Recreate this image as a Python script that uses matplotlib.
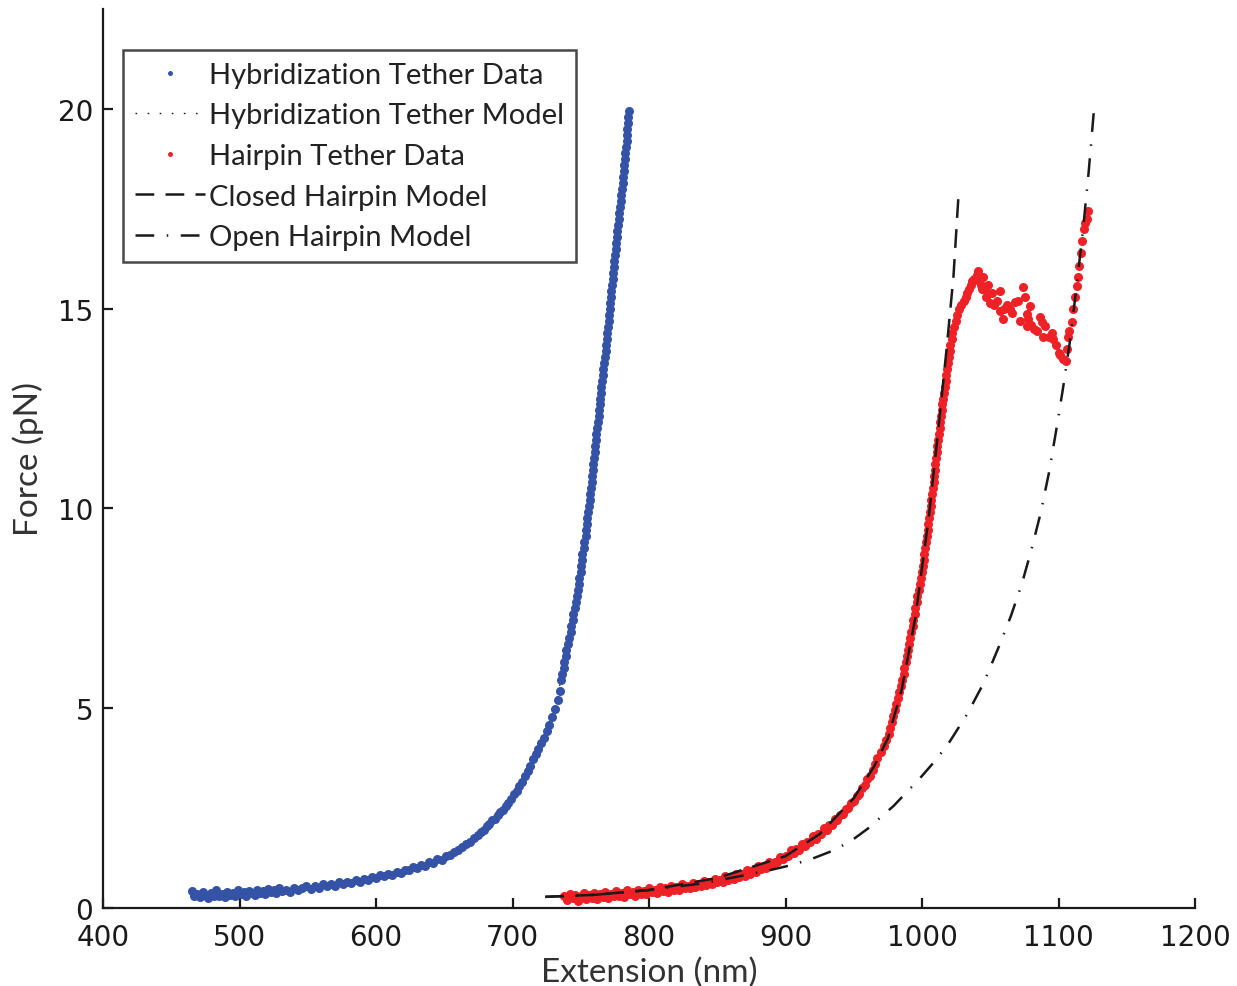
import matplotlib
matplotlib.use("Agg")
import matplotlib.pyplot as plt

plt.rcParams["font.family"] = ["Lato", "DejaVu Sans"]

BLUE = "#3553a6"
RED = "#ee2127"
INK = "#1a1a1a"

# ---- Hybridization tether data (extension nm, force pN) ----
hyb_x = [
    465, 467, 469, 471, 473, 475, 477, 479, 481, 483, 485, 487, 489, 491, 493, 495, 497, 499,
    501, 503, 505, 507, 509, 511, 513, 515, 517, 519, 521, 523, 525, 527, 529, 531, 534, 537,
    540, 543, 546, 549, 552, 555, 558, 561, 564, 567, 570, 573, 576, 579, 582, 585, 588, 591,
    594, 597, 600, 603, 606, 609, 612, 615, 618, 621, 624, 627, 630, 633, 636, 639, 642, 645,
    648, 651, 654, 657, 660, 663, 666, 669, 672, 675,
    677, 679, 681, 683, 685, 687, 689, 691, 693, 695, 697, 699, 701, 703, 705, 707, 709, 711,
    713, 715, 717, 719, 721, 723, 725, 727, 729, 731, 733, 734.5,
    735.8, 736.4, 737.6, 738.0, 739.1, 739.5, 740.8, 741.3, 742.6, 743.0, 744.2, 744.6, 745.9,
    746.4, 747.5, 747.9, 748.8, 749.0, 749.9, 750.1, 751.0, 751.2, 752.1, 752.6, 753.5, 753.7,
    754.5, 754.9, 755.6, 755.8, 756.5, 756.9, 757.4, 757.9, 758.3, 758.9, 759.3, 759.6, 760.2,
    760.5, 761.1, 761.4, 762.2, 762.6, 763.0, 763.5, 763.9, 764.3, 764.9, 765.1, 765.8, 766.2,
    766.6, 767.2, 767.4, 768.1, 768.3, 769.0, 769.4, 769.8, 770.4, 770.7, 771.3, 771.5, 772.2,
    772.4, 773.0, 773.3, 773.7, 774.3, 774.5, 775.1, 775.6, 775.9, 776.6, 776.8, 777.5, 777.9,
    778.3, 778.9, 779.1, 779.8, 780.1, 780.6, 781.0, 781.4, 781.9, 782.2, 782.7, 783.0, 783.5,
    783.8, 784.1, 784.5, 784.7, 785.1,
]
hyb_f = [
    0.42, 0.31, 0.36, 0.28, 0.40, 0.33, 0.25, 0.38, 0.30, 0.44, 0.29, 0.36, 0.27, 0.41, 0.33,
    0.38, 0.30, 0.45, 0.34, 0.40, 0.31, 0.43, 0.37, 0.33, 0.46, 0.38, 0.42, 0.35, 0.47, 0.40,
    0.44, 0.38, 0.49, 0.42, 0.46, 0.40, 0.51, 0.45, 0.49, 0.55, 0.48, 0.56, 0.51, 0.59, 0.54,
    0.60, 0.56, 0.64, 0.59, 0.66, 0.62, 0.70, 0.66, 0.73, 0.69, 0.78, 0.74, 0.82, 0.79, 0.86,
    0.83, 0.91, 0.88, 0.96, 0.94, 1.02, 1.00, 1.08, 1.06, 1.15, 1.13, 1.22, 1.20, 1.30, 1.33,
    1.40, 1.45, 1.52, 1.60, 1.66, 1.76, 1.83,
    1.90, 1.96, 2.05, 2.10, 2.20, 2.24, 2.32, 2.40, 2.46, 2.55, 2.62, 2.74, 2.86, 2.92, 3.05,
    3.16, 3.30, 3.42, 3.55, 3.72, 3.85, 3.98, 4.12, 4.25, 4.42, 4.58, 4.78, 4.98, 5.20, 5.42,
    5.70, 5.85, 6.00, 6.15, 6.30, 6.45, 6.60, 6.75, 6.90, 7.05, 7.20, 7.35, 7.50, 7.65, 7.80,
    7.95, 8.10, 8.25, 8.40, 8.55, 8.70, 8.85, 9.00, 9.15, 9.30, 9.45, 9.60, 9.75, 9.90, 10.05,
    10.20, 10.35, 10.50, 10.65, 10.80, 10.95, 11.10, 11.25, 11.40, 11.55, 11.70, 11.85, 12.00,
    12.15, 12.30, 12.45, 12.60, 12.75, 12.90, 13.05, 13.20, 13.35, 13.50, 13.65, 13.80, 13.95,
    14.10, 14.25, 14.40, 14.55, 14.70, 14.85, 15.00, 15.15, 15.30, 15.45, 15.60, 15.75, 15.90,
    16.05, 16.20, 16.35, 16.50, 16.65, 16.80, 16.95, 17.10, 17.25, 17.40, 17.55, 17.70, 17.85,
    18.00, 18.15, 18.30, 18.45, 18.60, 18.75, 18.90, 19.05, 19.20, 19.35, 19.50, 19.65, 19.80,
    19.95,
]

# ---- Hybridization tether model (hidden under the blue data) ----
hyb_model_x = [464, 500, 540, 580, 620, 660, 677, 689, 701, 711, 721, 731, 736, 740,
               747, 753, 759, 765, 770, 775, 780, 785]
hyb_model_f = [0.33, 0.37, 0.47, 0.63, 0.90, 1.45, 1.90, 2.30, 2.85, 3.45, 4.15, 5.00, 5.80,
               6.50, 7.75, 9.35, 11.1, 12.9, 14.5, 16.2, 18.0, 20.0]

# ---- Hairpin tether data ----
hp_x = [
    738, 740, 742, 744, 746, 748, 750, 752, 754, 756, 758, 760, 762, 764, 766, 768, 770, 772,
    774, 776, 778, 780, 782, 784, 786, 788, 790, 792, 794, 796, 798, 800, 802, 804, 806, 808,
    810, 812, 814, 816, 818, 820, 822, 824, 826, 828, 830, 832, 834, 836, 838, 840, 842, 844,
    846, 848, 850, 852, 854, 856, 858, 860, 862, 864, 866, 868, 870, 872, 874, 876, 878, 880,
    882, 884, 886, 888, 890, 892, 894, 896, 898, 900, 902, 904, 906, 908, 910, 912, 914, 916,
    918, 920, 922, 924, 926, 928, 930, 932, 934, 936, 938, 940, 942, 944, 946, 948, 950, 952,
    954, 956, 958, 960, 962, 964,
    965.5, 967.2, 969.8, 971.9, 973.6, 975.5, 976.2, 977.8, 978.6, 980.3, 980.9, 982.4, 983.0,
    984.6, 985.0, 986.5, 987.1, 988.6, 989.0, 990.0, 990.3, 991.5, 991.9, 993.1, 993.5, 994.6,
    995.0, 996.1, 996.6, 997.7, 998.3, 999.4, 999.9, 1000.6, 1001.2, 1001.6, 1002.5, 1002.8,
    1003.6, 1004.0, 1004.6, 1005.2, 1005.5, 1006.3, 1006.6, 1007.4, 1007.7, 1008.4, 1008.8,
    1009.3, 1009.8, 1010.2, 1010.9, 1011.2, 1011.9, 1012.3, 1012.9, 1013.5, 1013.8, 1014.6,
    1014.9, 1015.7, 1016.1, 1016.6, 1017.2, 1017.7, 1018.5, 1018.9, 1019.6, 1020.2, 1020.8,
    1021.6, 1022.3, 1023.5, 1024.6, 1025.6, 1027.3, 1028.8, 1030.4, 1031.9, 1033.0, 1034.2,
    1035.5, 1036.8,
    1038, 1040, 1041, 1042, 1043, 1044, 1045, 1046, 1047, 1048, 1050, 1051, 1053, 1055, 1057,
    1057, 1059, 1060, 1062, 1064.5, 1066, 1068, 1070, 1072, 1074, 1075.5, 1077, 1077.7, 1077,
    1079, 1080, 1082, 1084, 1086.5, 1088, 1088.6, 1090, 1093, 1095, 1096, 1098, 1100,
    1101, 1103, 1105.5, 1106, 1107, 1108, 1110, 1110.6, 1112, 1113.5, 1114, 1115, 1116.5,
    1117, 1118.7, 1119.5, 1121, 1121.6,
]
hp_f = [
    0.30, 0.20, 0.35, 0.25, 0.32, 0.18, 0.29, 0.37, 0.23, 0.33, 0.26, 0.38, 0.22, 0.34, 0.28,
    0.40, 0.26, 0.36, 0.30, 0.42, 0.31, 0.38, 0.28, 0.44, 0.34, 0.40, 0.31, 0.46, 0.36, 0.43,
    0.34, 0.49, 0.39, 0.46, 0.37, 0.52, 0.42, 0.49, 0.40, 0.55, 0.45, 0.53, 0.45, 0.59, 0.49,
    0.56, 0.50, 0.63, 0.53, 0.61, 0.54, 0.68, 0.58, 0.65, 0.60, 0.73, 0.64, 0.71, 0.66, 0.79,
    0.70, 0.77, 0.72, 0.86, 0.77, 0.85, 0.81, 0.94, 0.86, 0.94, 0.90, 1.04, 0.97, 1.05, 1.01,
    1.15, 1.08, 1.16, 1.14, 1.28, 1.22, 1.31, 1.29, 1.44, 1.37, 1.47, 1.46, 1.60, 1.54, 1.64,
    1.64, 1.79, 1.73, 1.85, 1.86, 2.00, 1.96, 2.07, 2.09, 2.23, 2.21, 2.33, 2.36, 2.49, 2.51,
    2.63, 2.67, 2.81, 2.86, 3.01, 3.07, 3.22, 3.31, 3.46,
    3.60, 3.75, 3.90, 4.05, 4.20, 4.35, 4.50, 4.65, 4.80, 4.95, 5.10, 5.25, 5.40, 5.55, 5.70,
    5.85, 6.00, 6.15, 6.30, 6.45, 6.60, 6.75, 6.90, 7.05, 7.20, 7.35, 7.50, 7.65, 7.80, 7.95,
    8.10, 8.25, 8.40, 8.55, 8.70, 8.85, 9.00, 9.15, 9.30, 9.45, 9.60, 9.75, 9.90, 10.05, 10.20,
    10.35, 10.50, 10.65, 10.80, 10.95, 11.10, 11.25, 11.40, 11.55, 11.70, 11.85, 12.00, 12.15,
    12.30, 12.45, 12.60, 12.75, 12.90, 13.05, 13.20, 13.35, 13.50, 13.65, 13.80, 13.95, 14.10,
    14.25, 14.40, 14.55, 14.70, 14.85, 15.00, 15.10, 15.20, 15.30, 15.40, 15.50, 15.60, 15.70,
    15.75, 15.85, 15.95, 15.70, 15.60, 15.50, 15.80, 15.50, 15.30, 15.60, 15.15, 15.40, 15.10,
    15.20, 15.45, 14.95, 14.75, 15.00, 15.10, 15.00, 14.90, 15.17, 15.20, 14.70, 15.55, 15.30,
    14.87, 14.75, 14.57, 15.07, 14.60, 14.50, 14.45, 14.80, 14.66, 14.30, 14.57, 14.30, 14.40,
    14.24, 14.10, 13.90,
    13.85, 13.75, 13.70, 14.00, 14.30, 14.45, 14.67, 15.00, 15.30, 15.57, 15.80, 16.07, 16.40,
    16.70, 17.00, 17.15, 17.25, 17.45,
]

# ---- Closed hairpin model ----
closed_x = [724, 760, 800, 850, 900, 925, 950, 965, 975, 985, 995, 1005, 1012, 1018, 1023, 1027]
closed_f = [0.28, 0.33, 0.45, 0.75, 1.30, 1.85, 2.75, 3.55, 4.25, 5.45, 7.25, 9.8, 12.0, 14.0, 15.8, 18.0]

# ---- Open hairpin model ----
open_x = [724, 760, 800, 840, 870, 890, 905, 920, 935, 948, 960, 979, 998, 1010, 1020, 1033,
          1045, 1057, 1065, 1073, 1080, 1087, 1093, 1098, 1103, 1108, 1113, 1118, 1122, 1126]
open_f = [0.28, 0.33, 0.45, 0.62, 0.82, 0.96, 1.08, 1.24, 1.44, 1.68, 1.98, 2.55, 3.23, 3.70,
          4.15, 4.85, 5.62, 6.60, 7.30, 8.10, 8.95, 9.90, 10.90, 11.90, 12.95, 14.10, 15.50,
          17.00, 18.40, 20.0]

fig = plt.figure(figsize=(12.37, 9.87), dpi=100)
ax = fig.add_axes([0.0833, 0.079, 0.8828, 0.911])

ax.plot(hyb_x, hyb_f, linestyle="none", marker="o", ms=6.5, mec="none", color=BLUE,
        label="Hybridization Tether Data", zorder=3)
ax.plot(hyb_model_x, hyb_model_f, linestyle=(0, (1.2, 7.5)), lw=1.0, color=INK,
        label="Hybridization Tether Model", zorder=2)
ax.plot(hp_x, hp_f, linestyle="none", marker="o", ms=6.5, mec="none", color=RED,
        label="Hairpin Tether Data", zorder=3)
ax.plot(closed_x, closed_f, linestyle=(0, (7.5, 4.5)), lw=1.8, color=INK,
        label="Closed Hairpin Model", zorder=4)
ax.plot(open_x, open_f, linestyle=(0, (7.5, 5, 0.6, 5)), lw=1.8, color=INK,
        label="Open Hairpin Model", zorder=4)

ax.set_xlim(400, 1200)
ax.set_ylim(0, 22.5)
ax.set_xticks(range(400, 1201, 100))
ax.set_yticks([0, 5, 10, 15, 20])
for s in ("top", "right"):
    ax.spines[s].set_visible(False)
for s in ("left", "bottom"):
    ax.spines[s].set_linewidth(1.6)
    ax.spines[s].set_color(INK)
ax.tick_params(direction="in", length=7, width=1.6, color=INK, labelsize=20, labelcolor=INK)
ax.tick_params(axis="x", pad=11)
ax.tick_params(axis="y", pad=7)
for lab in ax.get_xticklabels() + ax.get_yticklabels():
    lab.set_family(["DejaVu Sans"])

ax.set_xlabel("Extension (nm)", fontsize=24, color="#333333", labelpad=4)
ax.set_ylabel("Force (pN)", fontsize=24, color="#333333", labelpad=10)

leg = ax.legend(loc="upper left", bbox_to_anchor=(0.0183, 0.954), fontsize=21,
                frameon=True, fancybox=False, edgecolor=INK, handlelength=2.4,
                handletextpad=0.15, labelspacing=0.5, borderpad=0.4, borderaxespad=0,
                markerscale=0.55)
leg.get_frame().set_linewidth(1.8)
for t in leg.get_texts():
    t.set_color("#222222")

fig.savefig("out.png", dpi=100)
